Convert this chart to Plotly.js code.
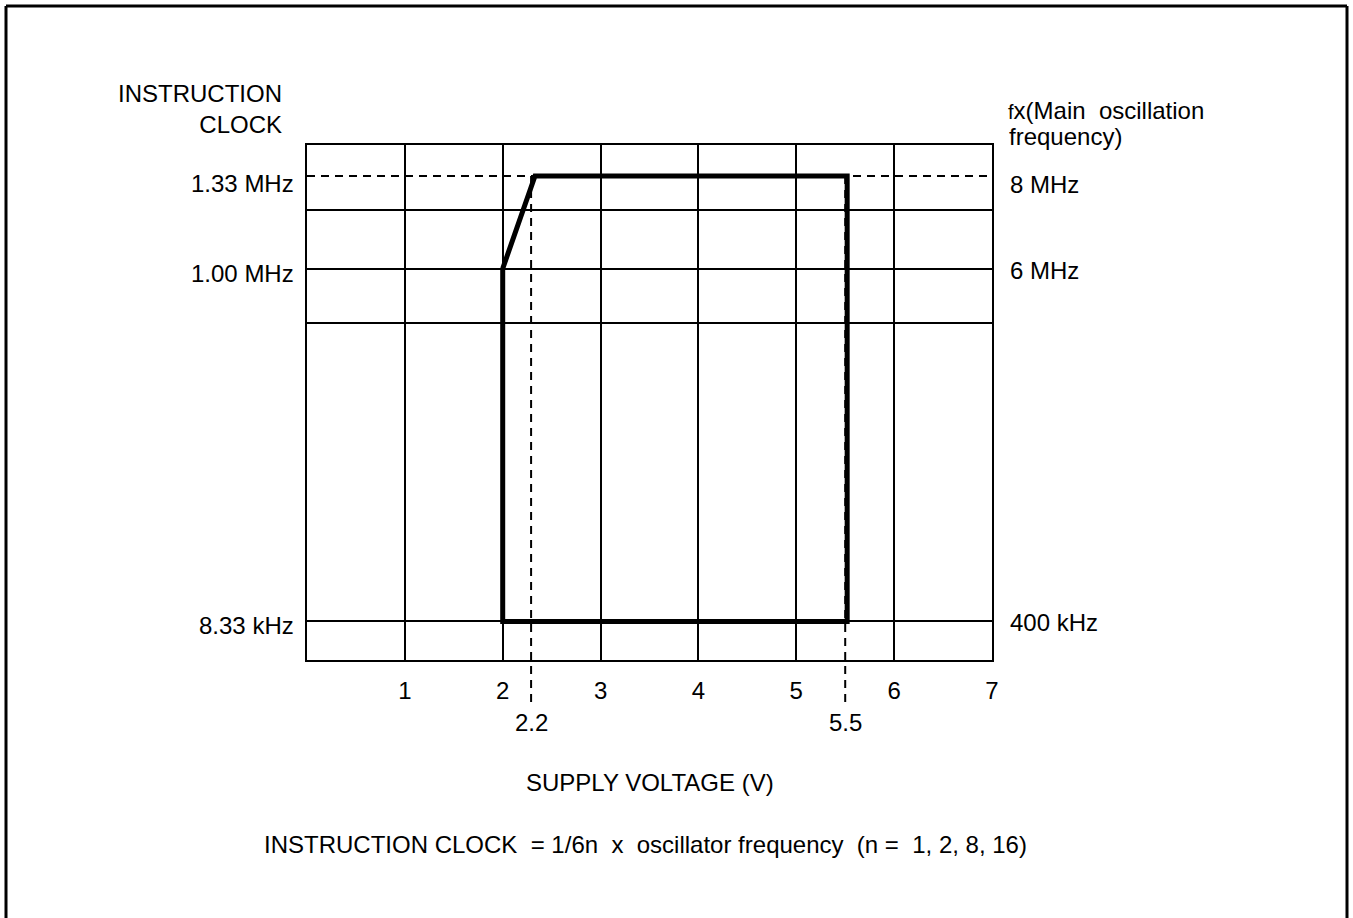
<!DOCTYPE html>
<html>
<head>
<meta charset="utf-8">
<script src="https://cdn.plot.ly/plotly-3.0.1.min.js"></script>
<style>html,body{margin:0;padding:0;background:#fff;}</style>
</head>
<body>
<div id="chart" style="width:1353px;height:918px;"></div>
<script>
// ---- data ----
const voltageTicks = [1, 2, 3, 4, 5, 6, 7];
const voltageTickText = ['1', '2', '3', '4', '5', '6', '7'];
const clockLabels = ['8.33 kHz', '1.00 MHz', '1.33 MHz'];
const oscLabels = ['400 kHz', '6 MHz', '8 MHz'];
const levelPos = [0.75, 7.6, 9.4];            // schematic level of each frequency
const gridLevels = [0.75, 6.55, 7.6, 8.74];   // solid horizontal grid levels
const boundaryVolts = [2.0, 2.0, 5.52, 5.52, 2.33, 2.0];
const boundaryLevel = [7.6, 0.75, 0.75, 9.4, 9.4, 7.6];
const markerVolts = [2.29, 5.5];
const markerLabels = ['2.2', '5.5'];

// ---- layout helpers ----
const W = 1353, H = 918, L = 307, R = 992, T = 145, B = 660;
const px2x = p => (p - L) / (R - L);
const px2y = p => (B - p) / (B - T);
const FONT = 'Liberation Sans, Arial, Helvetica, sans-serif';
const yMax = 10;

const traces = [
  {
    x: [0, 7], y: [levelPos[2], levelPos[2]],
    mode: 'lines', line: {color: '#000', width: 2, dash: '8px,6px'},
    hoverinfo: 'skip', showlegend: false
  },
  {
    x: boundaryVolts, y: boundaryLevel,
    mode: 'lines', line: {color: '#000', width: 5},
    hoverinfo: 'skip', showlegend: false
  }
];

const annotations = [];
const leftShift = [-4, -5, -8];
const rightShift = [-1, -2, -9];
clockLabels.forEach((t, i) => annotations.push({
  text: t, xref: 'paper', x: 0, xanchor: 'right', xshift: -11,
  yref: 'y', y: levelPos[i], yanchor: 'middle', yshift: leftShift[i],
  showarrow: false, font: {family: FONT, size: 24, color: '#000'}
}));
oscLabels.forEach((t, i) => annotations.push({
  text: t, xref: 'paper', x: 1, xanchor: 'left', xshift: 16,
  yref: 'y', y: levelPos[i], yanchor: 'middle', yshift: rightShift[i],
  showarrow: false, font: {family: FONT, size: 24, color: '#000'}
}));
markerLabels.forEach((t, i) => annotations.push({
  text: t, xref: 'x', x: markerVolts[i], xanchor: 'center',
  yref: 'paper', y: px2y(722), yanchor: 'middle',
  showarrow: false, font: {family: FONT, size: 24, color: '#000'}
}));
annotations.push({
  text: 'INSTRUCTION<br>CLOCK', align: 'right',
  xref: 'paper', x: px2x(284), xanchor: 'right',
  yref: 'paper', y: px2y(109), yanchor: 'middle',
  showarrow: false, font: {family: FONT, size: 24, color: '#000'}
});
annotations.push({
  text: "<span style='font-size:20px'>f</span>x(Main\u00a0\u00a0oscillation", align: 'left',
  xref: 'paper', x: px2x(1006), xanchor: 'left',
  yref: 'paper', y: px2y(111), yanchor: 'middle',
  showarrow: false, font: {family: FONT, size: 24, color: '#000'}
});
annotations.push({
  text: 'frequency)', align: 'left',
  xref: 'paper', x: px2x(1007), xanchor: 'left',
  yref: 'paper', y: px2y(137), yanchor: 'middle',
  showarrow: false, font: {family: FONT, size: 24, color: '#000'}
});
annotations.push({
  text: 'SUPPLY VOLTAGE (V)',
  xref: 'paper', x: px2x(650), xanchor: 'center',
  yref: 'paper', y: px2y(782), yanchor: 'middle',
  showarrow: false, font: {family: FONT, size: 24, color: '#000'}
});
annotations.push({
  text: 'INSTRUCTION CLOCK\u00a0 = 1/6n\u00a0 x\u00a0 oscillator frequency\u00a0 (n =\u00a0 1, 2, 8, 16)',
  xref: 'paper', x: px2x(645), xanchor: 'center',
  yref: 'paper', y: px2y(844), yanchor: 'middle',
  showarrow: false, font: {family: FONT, size: 24, color: '#000'}
});

const shapes = [];
markerVolts.forEach(v => shapes.push({
  type: 'line', xref: 'x', yref: 'paper',
  x0: v, x1: v, y0: levelPos[2] / yMax, y1: px2y(707),
  line: {color: '#000', width: 2, dash: '8px,6px'}
}));
// outer frame (left, top, right)
const fx0 = px2x(6), fx1 = px2x(1347), fyTop = px2y(6), fyBot = px2y(930);
shapes.push({type: 'line', xref: 'paper', yref: 'paper', x0: fx0, x1: fx0, y0: fyBot, y1: fyTop, line: {color: '#000', width: 3}});
shapes.push({type: 'line', xref: 'paper', yref: 'paper', x0: fx0, x1: fx1, y0: fyTop, y1: fyTop, line: {color: '#000', width: 3}});
shapes.push({type: 'line', xref: 'paper', yref: 'paper', x0: fx1, x1: fx1, y0: fyTop, y1: fyBot, line: {color: '#000', width: 3}});

const layout = {
  width: W, height: H,
  margin: {l: L, r: W - R, t: T, b: H - B, pad: 0},
  paper_bgcolor: '#fff', plot_bgcolor: '#fff',
  showlegend: false,
  font: {family: FONT, size: 24, color: '#000'},
  xaxis: {
    range: [0, 7], tickvals: voltageTicks, ticktext: voltageTickText,
    showgrid: true, gridcolor: '#000', gridwidth: 2, zeroline: false,
    showline: true, mirror: true, linecolor: '#000', linewidth: 2,
    ticks: '', ticklabelstandoff: 8,
    tickfont: {family: FONT, size: 24, color: '#000'},
    fixedrange: true
  },
  yaxis: {
    range: [0, yMax], tickvals: gridLevels, showticklabels: false,
    showgrid: true, gridcolor: '#000', gridwidth: 2, zeroline: false,
    showline: true, mirror: true, linecolor: '#000', linewidth: 2,
    ticks: '', fixedrange: true
  },
  annotations: annotations,
  shapes: shapes
};

Plotly.newPlot('chart', traces, layout, {displayModeBar: false, staticPlot: true});
</script>
</body>
</html>
